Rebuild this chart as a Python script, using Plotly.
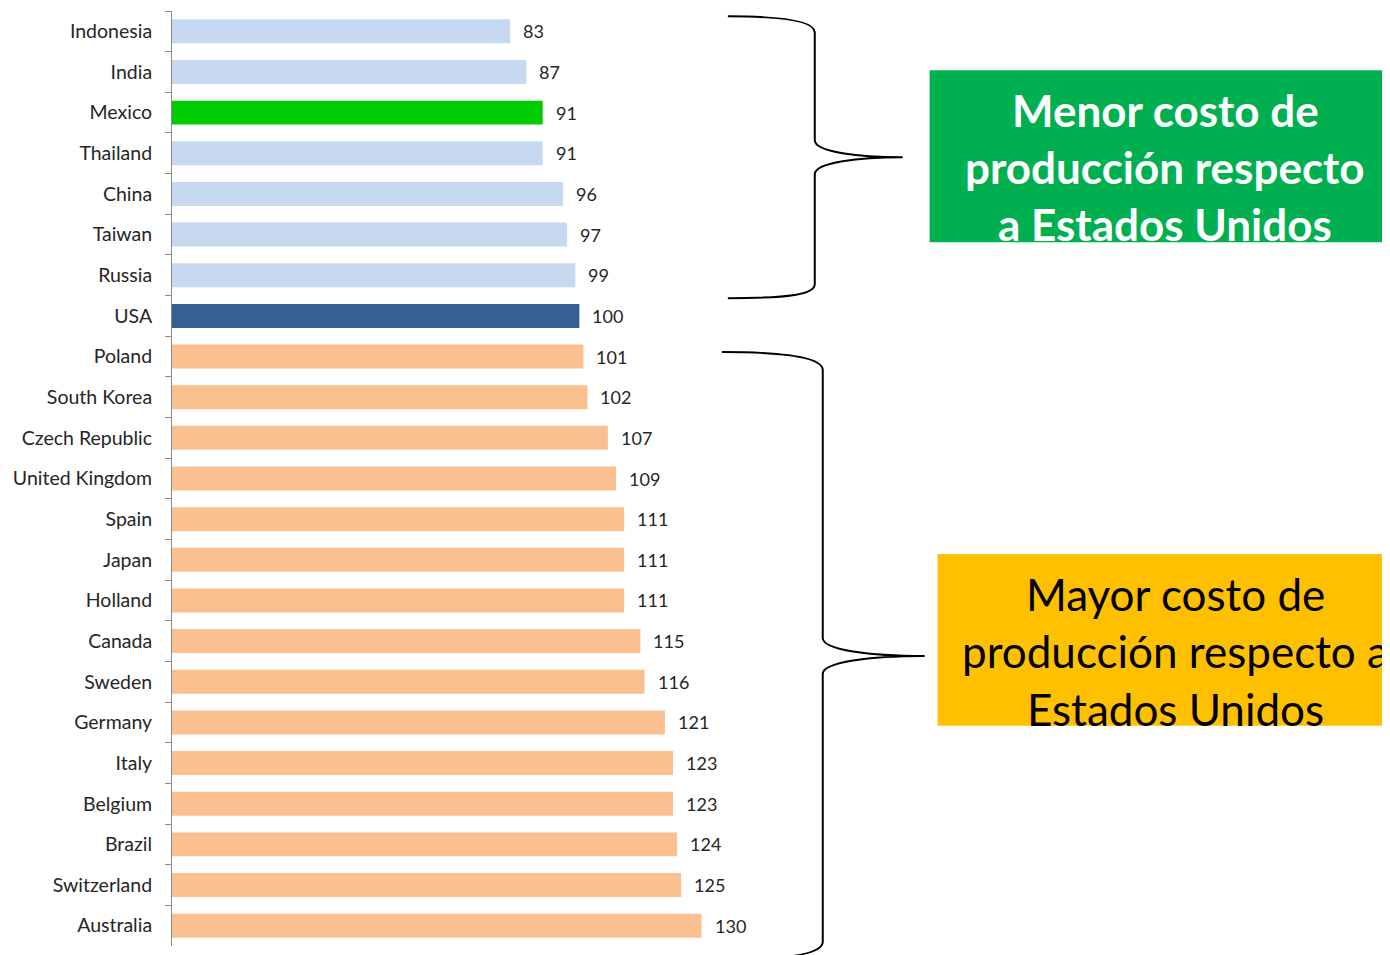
import plotly.graph_objects as go

countries = ["Indonesia", "India", "Mexico", "Thailand", "China", "Taiwan", "Russia", "USA",
             "Poland", "South Korea", "Czech Republic", "United Kingdom", "Spain", "Japan",
             "Holland", "Canada", "Sweden", "Germany", "Italy", "Belgium", "Brazil",
             "Switzerland", "Australia"]
values = [83, 87, 91, 91, 96, 97, 99, 100, 101, 102, 107, 109, 111, 111, 111, 115, 116,
          121, 123, 123, 124, 125, 130]

green_box_lines = ["Menor costo de", "producción respecto", "a Estados Unidos"]
orange_box_lines = ["Mayor costo de", "producción respecto a", "Estados Unidos"]

OFF = 8  # page body margin
W, H = 1390 - OFF, 955 - OFF
ML, MT = 171.5 - OFF, 10.66 - OFF
XMAX = 150
PX_PER_UNIT = 4.078
PW = XMAX * PX_PER_UNIT
PH = 935.64
MR = W - ML - PW
MB = H - MT - PH


def colour(c, v):
    if c == "Mexico":
        return "#00CC00"
    if c == "USA":
        return "#376092"
    return "#C6D9F1" if v < 100 else "#FAC090"


def px(x):
    return (x - OFF - ML) / PW


def py(y):
    return 1 - (y - OFF - MT) / PH


def path(cmds):
    out = []
    for c in cmds:
        if isinstance(c, str):
            out.append(c)
        else:
            out.append(f"{px(c[0]):.5f},{py(c[1]):.5f}")
    return " ".join(out)


fig = go.Figure(go.Bar(
    y=countries, x=values, orientation="h",
    marker=dict(color=[colour(c, v) for c, v in zip(countries, values)], line_width=0),
    width=0.59, hoverinfo="x+y",
))

for c, v in zip(countries, values):
    fig.add_annotation(x=v, y=c, xref="x", yref="y", text=str(v), showarrow=False,
                       xanchor="left", xshift=11, font=dict(family="Lato", size=18, color="#262626"))

shapes = []
shapes.append(dict(type="rect", xref="paper", yref="paper", x0=px(930), x1=px(1420),
                   y0=py(70), y1=py(242), fillcolor="#00B050", line_width=0, layer="below"))
shapes.append(dict(type="rect", xref="paper", yref="paper", x0=px(938), x1=px(1420),
                   y0=py(554), y1=py(726), fillcolor="#FFC000", line_width=0, layer="below"))

top_brace = ["M", (728, 16), "C", (790, 16), (815, 22), (815, 32), "L", (815, 140),
             "C", (815, 152), (860, 157), (903, 157), "C", (860, 157), (815, 162), (815, 174),
             "L", (815, 284), "C", (815, 294), (790, 298), (728, 298)]
bot_brace = ["M", (722, 352), "C", (790, 352), (823, 358), (823, 370), "L", (823, 638),
             "C", (823, 650), (870, 656), (925, 656), "C", (870, 656), (823, 662), (823, 674),
             "L", (823, 942), "C", (823, 954), (790, 960), (722, 960)]
for b in (top_brace, bot_brace):
    shapes.append(dict(type="path", xref="paper", yref="paper", path=path(b),
                       line=dict(color="black", width=2)))

for i, t in enumerate(green_box_lines):
    fig.add_annotation(x=px(1166), y=py(110 + 57 * i), xref="paper", yref="paper", text=f"<b>{t}</b>",
                       showarrow=False, xanchor="center", yanchor="middle",
                       font=dict(family="Lato", size=44, color="white"))
for i, t in enumerate(orange_box_lines):
    fig.add_annotation(x=px(1176), y=py(594 + 57.5 * i), xref="paper", yref="paper", text=t,
                       showarrow=False, xanchor="center", yanchor="middle",
                       font=dict(family="Lato", size=44, color="black"))

fig.update_layout(
    width=W, height=H,
    margin=dict(l=ML, r=MR, t=MT, b=MB, pad=0),
    paper_bgcolor="white", plot_bgcolor="white",
    showlegend=False, shapes=shapes,
    xaxis=dict(range=[0, XMAX], visible=False, fixedrange=True),
    yaxis=dict(autorange="reversed", type="category", tickson="boundaries", ticks="outside",
               ticklen=6, tickcolor="#8C8C8C", showline=True, linecolor="#8C8C8C", linewidth=1,
               showgrid=False, tickfont=dict(family="Lato", size=19.5, color="#262626"),
               ticklabelstandoff=15),
)

fig.write_html("out.html")
